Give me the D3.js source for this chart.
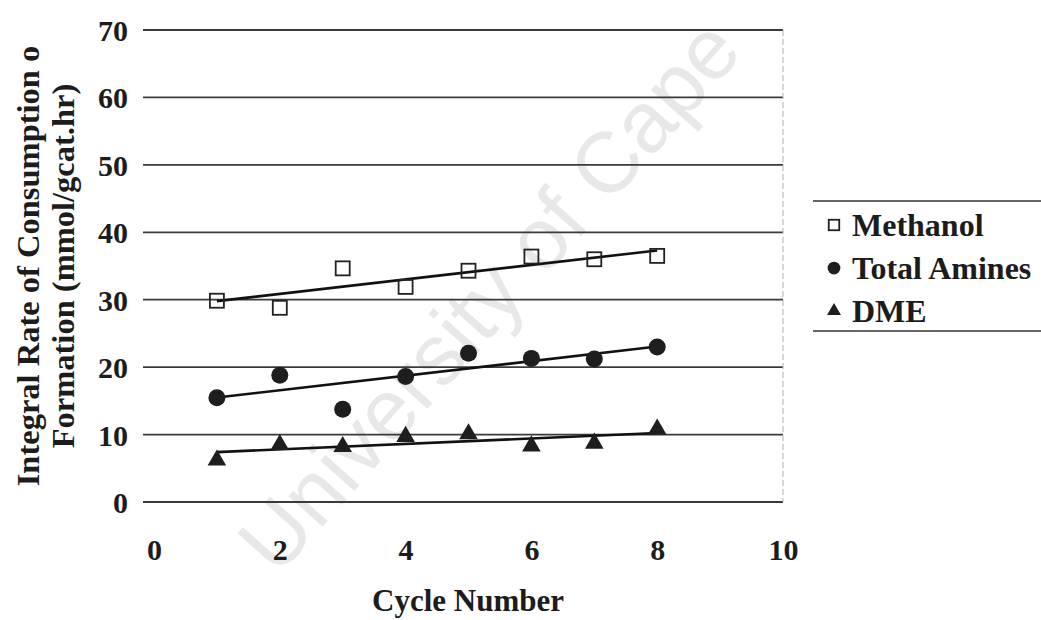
<!DOCTYPE html>
<html>
<head>
<meta charset="utf-8">
<script src="https://cdn.jsdelivr.net/npm/d3@7"></script>
<style>
  html, body { margin: 0; padding: 0; background: #fff; }
  svg { display: block; }
  text { font-family: "Liberation Serif", "Times New Roman", serif; font-weight: bold; fill: #1c1c1c; }
</style>
</head>
<body>
<svg id="chart" width="1041" height="620"></svg>
<script>
// Cycle numbers and measured rates (mmol/gcat.hr)
const cycles = [1, 2, 3, 4, 5, 6, 7, 8];
const methanol = [29.85, 28.8, 34.65, 31.9, 34.3, 36.4, 36.0, 36.5];
const totalAmines = [15.47, 18.8, 13.75, 18.6, 22.05, 21.3, 21.2, 23.0];
const dme = [6.2, 8.5, 8.2, 9.7, 10.1, 8.3, 8.7, 10.8];

const xTicks = [0, 2, 4, 6, 8, 10];
const yTicks = [0, 10, 20, 30, 40, 50, 60, 70];
const seriesNames = ["Methanol", "Total Amines", "DME"];

const svg = d3.select("#chart");

const plot = { left: 143, right: 783, top: 30, bottom: 502 };
const x = d3.scaleLinear().domain([0, 10]).range([154, 783]);
const y = d3.scaleLinear().domain([0, 70]).range([plot.bottom, plot.top]);

// faint background watermark
svg.append("text")
  .attr("transform", "translate(494,300) rotate(-48.3)")
  .attr("text-anchor", "middle")
  .attr("dominant-baseline", "middle")
  .style("font-family", "'Liberation Sans', Arial, sans-serif")
  .style("font-weight", "normal")
  .style("font-size", "86px")
  .style("fill", "#e8e8e8")
  .text("University of Cape");

// horizontal gridlines
svg.append("g").selectAll("line")
  .data(yTicks)
  .join("line")
  .attr("x1", plot.left).attr("x2", plot.right)
  .attr("y1", d => y(d)).attr("y2", d => y(d))
  .attr("stroke", "#3a3a3a").attr("stroke-width", 1.8);

// right edge of the plot area
svg.append("line")
  .attr("x1", plot.right).attr("x2", plot.right)
  .attr("y1", plot.top).attr("y2", plot.bottom)
  .attr("stroke", "#b0b0b0").attr("stroke-width", 1)
  .attr("stroke-dasharray", "6,3");

// y axis tick labels
const yAxis = d3.axisLeft(y).tickValues(yTicks).tickSize(0).tickPadding(0);
const gy = svg.append("g").attr("transform", "translate(128,0)").call(yAxis);
gy.select(".domain").remove();
gy.selectAll("text")
  .attr("x", 0).attr("dy", "0.35em")
  .style("font-size", "30px").style("font-family", "'Liberation Serif', serif").style("font-weight", "bold").attr("fill", "#1c1c1c");

// x axis tick labels
const xAxis = d3.axisBottom(x).tickValues(xTicks).tickSize(0).tickPadding(0);
const gx = svg.append("g").attr("transform", "translate(0,539)").call(xAxis);
gx.select(".domain").remove();
gx.selectAll("text")
  .attr("y", 0).attr("dy", "0.71em")
  .style("font-size", "30px").style("font-family", "'Liberation Serif', serif").style("font-weight", "bold").attr("fill", "#1c1c1c");

// axis titles
svg.append("text")
  .attr("x", 468).attr("y", 611)
  .attr("text-anchor", "middle")
  .style("font-size", "31px")
  .text("Cycle Number");

const yTitle = svg.append("g").attr("transform", "translate(0,266) rotate(-90)");
yTitle.append("text")
  .attr("x", 0).attr("y", 39)
  .attr("text-anchor", "middle")
  .style("font-size", "32.5px")
  .text("Integral Rate of Consumption o");
yTitle.append("text")
  .attr("x", 0).attr("y", 74)
  .attr("text-anchor", "middle")
  .style("font-size", "32.5px")
  .text("Formation (mmol/gcat.hr)");

// least-squares trend line for each series
function fit(xs, ys) {
  const mx = d3.mean(xs), my = d3.mean(ys);
  const sxy = d3.sum(xs, (v, i) => (v - mx) * (ys[i] - my));
  const sxx = d3.sum(xs, v => (v - mx) * (v - mx));
  const b = sxy / sxx;
  return v => my + b * (v - mx);
}

const series = [
  { name: seriesNames[0], values: methanol, symbol: "square" },
  { name: seriesNames[1], values: totalAmines, symbol: "circle" },
  { name: seriesNames[2], values: dme, symbol: "triangle" }
];

const trend = svg.append("g");
series.forEach(s => {
  const f = fit(cycles, s.values);
  const x0 = d3.min(cycles), x1 = d3.max(cycles);
  trend.append("line")
    .attr("x1", x(x0)).attr("y1", y(f(x0)))
    .attr("x2", x(x1)).attr("y2", y(f(x1)))
    .attr("stroke", "#111").attr("stroke-width", 2.6);
});

function drawMarker(g, kind, cx, cy, scale) {
  const k = scale || 1;
  if (kind === "square") {
    g.append("rect")
      .attr("x", cx - 7 * k).attr("y", cy - 7 * k)
      .attr("width", 14 * k).attr("height", 14 * k)
      .attr("fill", "none")
      .attr("stroke", "#222").attr("stroke-width", 1.8);
  } else if (kind === "circle") {
    g.append("circle")
      .attr("cx", cx).attr("cy", cy).attr("r", 8.5 * k)
      .attr("fill", "#1e1e1e");
  } else {
    g.append("path")
      .attr("transform", `translate(${cx},${cy})`)
      .attr("d", d3.symbol(d3.symbolTriangle, 150 * k * k)())
      .attr("fill", "#1e1e1e");
  }
}

const marks = svg.append("g");
series.forEach(s => {
  s.values.forEach((v, i) => drawMarker(marks, s.symbol, x(cycles[i]), y(v)));
});

// legend
const legend = svg.append("g");
legend.append("line").attr("x1", 813).attr("x2", 1041).attr("y1", 201).attr("y2", 201)
  .attr("stroke", "#333").attr("stroke-width", 1.6);
legend.append("line").attr("x1", 813).attr("x2", 1041).attr("y1", 331).attr("y2", 331)
  .attr("stroke", "#333").attr("stroke-width", 1.6);
series.forEach((s, i) => {
  const cy = 225 + i * 43;
  drawMarker(legend, s.symbol, 834, cy, 0.75);
  legend.append("text")
    .attr("x", 852).attr("y", cy).attr("dy", "0.35em")
    .style("font-size", "32px")
    .text(s.name);
});
</script>
</body>
</html>
